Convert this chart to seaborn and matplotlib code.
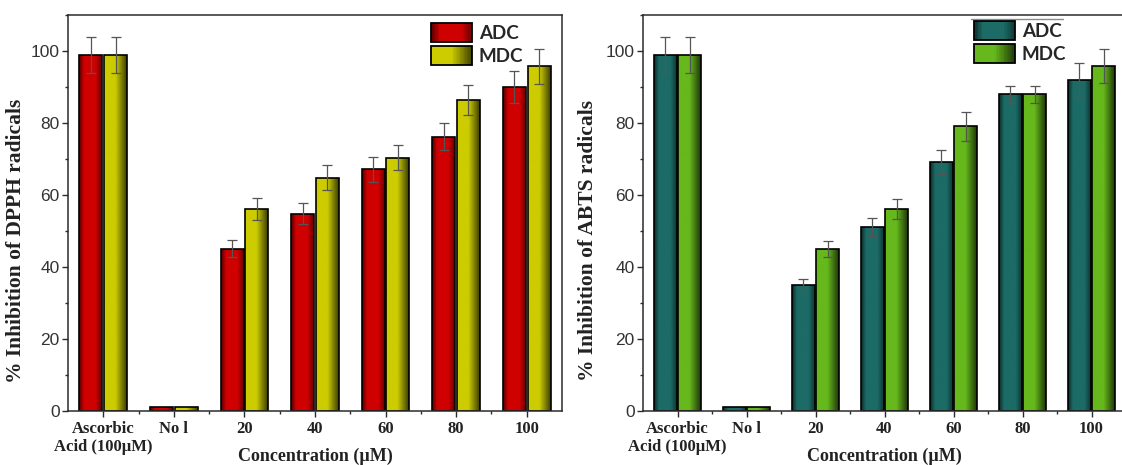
import numpy as np
import pandas as pd
import matplotlib
matplotlib.use("Agg")
import matplotlib.pyplot as plt
import seaborn as sns
from matplotlib.patches import Rectangle
from matplotlib.legend_handler import HandlerBase
from matplotlib.ticker import MultipleLocator, FixedLocator
from matplotlib.colors import to_rgb

# ---- data -------------------------------------------------------------
categories = ["Ascorbic\nAcid (100µM)", "No l", "20", "40", "60", "80", "100"]
series = ["ADC", "MDC"]

dpph_adc = [99.0, 1.0, 45.1, 54.8, 67.1, 76.2, 90.0]
dpph_adc_err = [5.0, 0.0, 2.3, 2.9, 3.5, 3.8, 4.5]
dpph_mdc = [99.0, 1.0, 56.1, 64.8, 70.4, 86.4, 95.7]
dpph_mdc_err = [5.0, 0.0, 3.0, 3.4, 3.4, 4.2, 4.8]

abts_adc = [99.0, 1.0, 35.0, 51.1, 69.1, 88.0, 92.0]
abts_adc_err = [5.0, 0.0, 1.7, 2.6, 3.4, 2.4, 4.8]
abts_mdc = [99.0, 1.0, 45.0, 56.1, 79.1, 88.0, 95.9]
abts_mdc_err = [5.0, 0.0, 2.3, 2.8, 4.0, 2.4, 4.7]

# ---- style ------------------------------------------------------------
sns.set_theme(style="ticks")
plt.rcParams["font.family"] = ["Liberation Sans", "DejaVu Sans"]

SERIF = ["Liberation Serif", "DejaVu Serif"]
LEGEND_FONT = ["Lato", "DejaVu Sans"]
SPINE = "#2b2b2b"


def profile_adc(t):
    return np.interp(t, [0.0, 0.22, 0.72, 1.0], [0.4, 1.0, 1.0, 0.5])


def profile_mdc(t):
    return np.interp(t, [0.0, 0.5, 1.0], [1.0, 1.0, 0.3])


def gradient_strip(color, profile, n=96):
    t = np.linspace(0, 1, n)
    rgb = np.array(to_rgb(color))
    return (profile(t)[:, None] * rgb[None, :])[None, :, :]


class GradientHandler(HandlerBase):
    def __init__(self, color, profile):
        super().__init__()
        self.color = color
        self.profile = profile

    def create_artists(self, legend, orig_handle, xdescent, ydescent,
                       width, height, fontsize, trans):
        arts = []
        n = 30
        rgb = np.array(to_rgb(self.color))
        for i in range(n):
            t = (i + 0.5) / n
            c = np.clip(rgb * self.profile(t), 0, 1)
            arts.append(Rectangle((-xdescent + i * width / n, -ydescent),
                                  width / n * 1.08, height, facecolor=c,
                                  edgecolor="none", transform=trans))
        arts.append(Rectangle((-xdescent, -ydescent), width, height,
                              facecolor="none", edgecolor="black",
                              linewidth=1.3, transform=trans))
        return arts


def panel(ax, adc, adc_err, mdc, mdc_err, colors, ylabel, legend_anchor):
    df = pd.DataFrame({
        "Concentration": categories * 2,
        "Series": [series[0]] * len(categories) + [series[1]] * len(categories),
        "Inhibition": adc + mdc,
    })
    sns.barplot(data=df, x="Concentration", y="Inhibition", hue="Series",
                order=categories, hue_order=series,
                palette=dict(zip(series, colors)), width=0.7, gap=0.07,
                errorbar=None, edgecolor="black", linewidth=1.2,
                legend=False, ax=ax)

    profiles = [profile_adc, profile_mdc]
    errs = [adc_err, mdc_err]
    for cont, color, prof, err in zip(ax.containers, colors, profiles, errs):
        xs, ys, es = [], [], []
        for bar, e in zip(cont, err):
            x0, y0 = bar.get_x(), bar.get_y()
            w, h = bar.get_width(), bar.get_height()
            im = ax.imshow(gradient_strip(color, prof), aspect="auto",
                           extent=(x0, x0 + w, y0, y0 + h),
                           origin="lower", zorder=bar.get_zorder() - 0.1,
                           interpolation="bilinear")
            im.set_clip_path(bar)
            bar.set_facecolor("none")
            if e > 0:
                xs.append(x0 + w / 2)
                ys.append(h)
                es.append(e)
        ax.errorbar(xs, ys, yerr=es, fmt="none", ecolor="#555555",
                    elinewidth=0.9, capsize=3.5, capthick=0.9, zorder=6)

    ax.set_xlim(-0.5, len(categories) - 0.5)
    ax.set_ylim(0, 110)
    ax.set_yticks(np.arange(0, 101, 20))
    ax.yaxis.set_minor_locator(MultipleLocator(10))
    ax.xaxis.set_minor_locator(FixedLocator(np.arange(0.5, len(categories) - 1, 1)))

    for s in ax.spines.values():
        s.set_visible(True)
        s.set_color(SPINE)
        s.set_linewidth(1.1)

    ax.tick_params(axis="both", which="major", direction="out", length=4,
                   width=1, color=SPINE)
    ax.tick_params(axis="both", which="minor", direction="out", length=2.5,
                   width=1, color=SPINE)
    ax.tick_params(axis="y", labelsize=12.5, labelcolor="#333333", pad=2)
    ax.tick_params(axis="x", pad=3)
    ax.set_xticks(range(len(categories)))
    ax.set_xticklabels(categories, fontfamily=SERIF, fontweight="bold",
                       fontsize=12, color="#222222", linespacing=1.2)

    ax.set_xlabel("Concentration (µM)", fontfamily=SERIF, fontweight="bold",
                  fontsize=13, color="#222222")
    ax.set_ylabel(ylabel, fontfamily=SERIF, fontweight="bold",
                  fontsize=15.5, color="#222222")
    ax.xaxis.set_label_coords(0.5, -0.092)

    handles = [Rectangle((0, 0), 1, 1), Rectangle((0, 0), 1, 1)]
    hmap = {handles[0]: GradientHandler(colors[0], profile_adc),
            handles[1]: GradientHandler(colors[1], profile_mdc)}
    ax.legend(handles, series, handler_map=hmap, loc="upper left",
              bbox_to_anchor=legend_anchor, frameon=False,
              prop={"family": LEGEND_FONT, "weight": "bold", "size": 13.5},
              handlelength=2.2, handleheight=1.2, labelspacing=0.2,
              handletextpad=0.35, borderaxespad=0, borderpad=0)
    return ax


fig = plt.figure(figsize=(11.22, 4.65), dpi=100)
W, H = 1122, 465
ax1 = fig.add_axes([68 / W, 54 / H, 494 / W, 396 / H])
ax2 = fig.add_axes([643 / W, 54 / H, 483 / W, 396 / H])

panel(ax1, dpph_adc, dpph_adc_err, dpph_mdc, dpph_mdc_err,
      ["#cf0000", "#cccc00"], "% Inhibition of DPPH radicals", (0.735, 0.98))
panel(ax2, abts_adc, abts_adc_err, abts_mdc, abts_mdc_err,
      ["#1c6b66", "#66b81c"], "% Inhibition of ABTS radicals", (0.685, 0.985))

ax1.yaxis.set_label_coords(-0.085, 0.43)
ax2.yaxis.set_label_coords(-0.094, 0.43)

# thin rule above the right-hand legend
ax2.plot([0.68, 0.87], [0.99, 0.99], transform=ax2.transAxes,
         color="#8a8a8a", lw=1, clip_on=False)

fig.savefig("out.png", dpi=100)
